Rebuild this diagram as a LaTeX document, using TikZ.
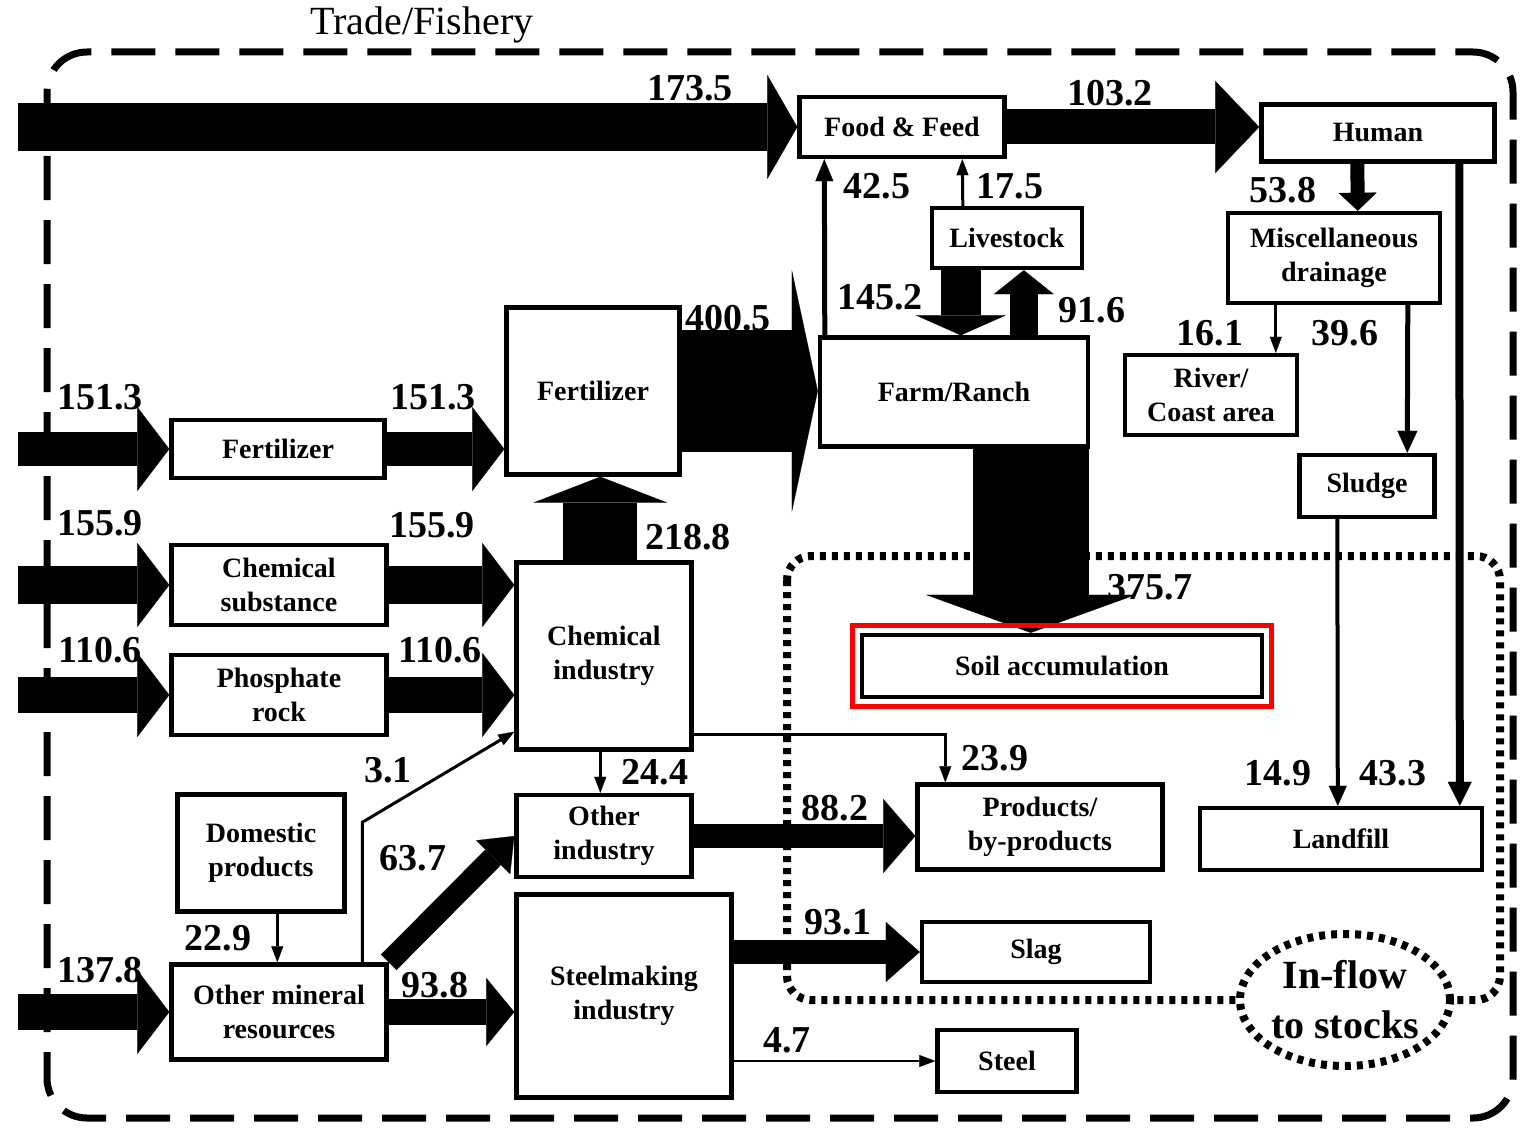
\documentclass[tikz,border=0pt]{standalone}
\usepackage{fontspec}
\setmainfont{Liberation Serif}
\usetikzlibrary{arrows.meta,calc,shapes.geometric,backgrounds,fit}

\begin{document}
\begin{tikzpicture}[
    x=0.5pt,y=-0.5pt,
    box/.style={draw=black,line width=2.2pt,fill=white,align=center,
      inner sep=1pt,font=\bfseries\fontsize{14}{17}\selectfont},
    sz/.style 2 args={minimum width=#1*0.5pt,minimum height=#2*0.5pt},
    num/.style={font=\bfseries\fontsize{19}{21}\selectfont,inner sep=0pt},
    flow/.style n args={3}{draw=black,line width=#1pt,
      -{Triangle[length=#2pt,width=#3pt,line width=0.1pt]}},
    border/.style={line width=3.5pt,dash pattern=on 22pt off 10pt},
    stockline/.style={line width=4pt,dash pattern=on 3pt off 3pt},
    hl/.style={draw=red,line width=2.5pt,inner sep=3.5pt}
  ]
  \useasboundingbox (0,0) rectangle (1521,1129);
  % boxes
  \node[box,sz={205}{60}] (ff) at (902,127) {Food \& Feed};
  \node[box,sz={233}{57}] (hu) at (1378,133) {Human};
  \node[box,sz={212}{90}] (md) at (1334,258) {Miscellaneous\\drainage};
  \node[box,sz={172}{80}] (rc) at (1211,395) {River/\\Coast area};
  \node[box,sz={135}{62}] (sl) at (1367,486) {Sludge};
  \node[box,sz={282}{62}] (lf) at (1341,839) {Landfill};
  \node[box,sz={150}{60}] (ls) at (1007,238) {Livestock};
  \node[box,sz={268}{109}] (fr) at (954,392) {Farm/Ranch};
  \node[box,sz={173}{167}] (fz) at (593,391) {Fertilizer};
  \node[box,sz={175}{187}] (ci) at (604,656) {Chemical\\industry};
  \node[box,sz={213}{58}] (fs) at (278,449) {Fertilizer};
  \node[box,sz={215}{80}] (cs) at (279,585) {Chemical\\substance};
  \node[box,sz={215}{80}] (pr) at (279,695) {Phosphate\\rock};
  \node[box,sz={167}{117}] (dp) at (261,853) {Domestic\\products};
  \node[box,sz={215}{95}] (om) at (279,1012) {Other mineral\\resources};
  \node[box,sz={175}{82}] (oi) at (604,836) {Other\\industry};
  \node[box,sz={215}{203}] (st) at (624,996) {Steelmaking\\industry};
  \node[box,sz={245}{85}] (pb) at (1040,827) {Products/\\by-products};
  \node[box,sz={228}{60}] (sg) at (1036,952) {Slag};
  \node[box,sz={139}{62}] (se) at (1007,1061) {Steel};
  \node[box,sz={400}{62}] (sa) at (1062,666) {Soil accumulation};
  \node[hl,fit=(sa)] (mark) {};
  \node[ellipse,draw,stockline,fill=white,minimum width=105pt,minimum height=66pt,
    inner sep=0pt,align=center,font=\bfseries\fontsize{20}{25}\selectfont]
    (inflow) at (1345,1000) {In-flow\\to stocks};
  % flow values
  \node (title) at (422,25) {\fontsize{20}{22}\selectfont Trade/Fishery};
  \node[num] (v1735) at (690,88) {173.5};
  \node[num] (v1032) at (1110,93) {103.2};
  \node[num] (v538) at (1283,190) {53.8};
  \node[num] (v161) at (1210,333) {16.1};
  \node[num] (v396) at (1345,333) {39.6};
  \node[num] (v149) at (1278,773) {14.9};
  \node[num] (v433) at (1393,773) {43.3};
  \node[num] (v425) at (877,186) {42.5};
  \node[num] (v175) at (1010,186) {17.5};
  \node[num] (v1452) at (880,297) {145.2};
  \node[num] (v916) at (1092,310) {91.6};
  \node[num] (v4005) at (728,318) {400.5};
  \node[num] (v3757) at (1150,587) {375.7};
  \node[num] (v2188) at (688,537) {218.8};
  \node[num] (v1513a) at (100,397) {151.3};
  \node[num] (v1513b) at (433,397) {151.3};
  \node[num] (v1559a) at (100,523) {155.9};
  \node[num] (v1559b) at (432,525) {155.9};
  \node[num] (v1106a) at (100,650) {110.6};
  \node[num] (v1106b) at (440,650) {110.6};
  \node[num] (v1378) at (100,970) {137.8};
  \node[num] (v938) at (435,985) {93.8};
  \node[num] (v31) at (388,770) {3.1};
  \node[num] (v637) at (413,858) {63.7};
  \node[num] (v229) at (218,938) {22.9};
  \node[num] (v244) at (655,772) {24.4};
  \node[num] (v239) at (995,758) {23.9};
  \node[num] (v882) at (835,808) {88.2};
  \node[num] (v931) at (838,922) {93.1};
  \node[num] (v47) at (787,1040) {4.7};
  \coordinate (edge) at (18,0);
  \begin{pgfonlayer}{background}
    \draw[border,rounded corners=20pt] (47,52) rectangle (1513,1118);
    \draw[stockline,rounded corners=12pt] (787,556) rectangle (1500,1000);
    % imports from outside
    \draw[flow={24}{15}{52}] (edge |- ff.west) -- (ff.west);
    \draw[flow={17}{16}{42}] (edge |- fs.west) -- (fs.west);
    \draw[flow={19}{16}{42}] (edge |- cs.west) -- (cs.west);
    \draw[flow={18}{16}{42}] (edge |- pr.west) -- (pr.west);
    \draw[flow={18}{16}{42}] (edge |- om.west) -- (om.west);
    % into industry
    \draw[flow={17}{16}{42}] (fs.east) -- (fs.east -| fz.west);
    \draw[flow={19}{16}{42}] (cs.east) -- (cs.east -| ci.west);
    \draw[flow={18}{16}{42}] (pr.east) -- (pr.east -| ci.west);
    \draw[flow={13}{14}{34}] (om.east) -- (om.east -| st.west);
    \draw[flow={11}{15}{24}] (om.north east) -- (oi.west);
    \draw[flow={1.5}{8}{6}] ($(om.north west)+(193,0)$) -- ++(0,-140)
      -- ($(ci.south west)+(0,-20)$);
    \draw[flow={1.5}{8}{6}] ($(dp.south west)+(102,0)$) -- ($(om.north west)+(108,0)$);
    \draw[flow={1.5}{8}{6}] ($(ci.south west)+(86,0)$) -- ($(oi.north west)+(86,0)$);
    \draw[flow={37}{13}{67}] ($(ci.north west)+(86,0)$) -- ($(fz.south west)+(96,0)$);
    \draw[flow={61}{13}{121}] (fz.east) -- (fz.east -| fr.west);
    % farm and food
    \draw[flow={2.5}{11}{9}] ($(fr.north west)+(7,0)$) -- ($(ff.south west)+(27,0)$);
    \draw[flow={1.5}{8}{6}] ($(ls.north west)+(33,0)$) -- ($(ff.south west)+(165,0)$);
    \draw[flow={20}{10}{45}] ($(ls.south west)+(31,0)$) -- ($(fr.north west)+(143,0)$);
    \draw[flow={14}{12}{30}] ($(fr.north west)+(206,0)$) -- ($(ls.south west)+(94,0)$);
    \draw[flow={58}{19}{105}] ($(fr.south west)+(213,0)$) -- ($(sa.north west)+(171,0)$);
    \draw[flow={17.5}{22}{46}] (ff.east) -- (ff.east -| hu.west);
    % human and waste
    \draw[flow={7}{9}{19}] ($(hu.south west)+(98,0)$) -- ($(md.north west)+(132,0)$);
    \draw[flow={1.5}{8}{6}] ($(md.south west)+(50,0)$) -- ($(rc.north west)+(153,0)$);
    \draw[flow={2.5}{11}{10}] ($(md.south west)+(182,0)$) -- ($(sl.north west)+(110,0)$);
    \draw[flow={2}{10}{9}] ($(sl.south west)+(40,0)$) -- ($(lf.north west)+(140,0)$);
    \draw[flow={4}{12}{12}] ($(hu.south west)+(200,0)$) -- ($(lf.north west)+(262,0)$);
    % products
    \draw[flow={1.5}{8}{6}] ($(ci.south east)+(0,-17)$) -| ($(pb.north west)+(30,0)$);
    \draw[flow={12}{16}{37}] (oi.east) -- (oi.east -| pb.west);
    \draw[flow={12}{17}{30}] (sg.west -| st.east) -- (sg.west);
    \draw[flow={1}{8}{6}] (se.west -| st.east) -- (se.west);
  \end{pgfonlayer}
\end{tikzpicture}
\end{document}
